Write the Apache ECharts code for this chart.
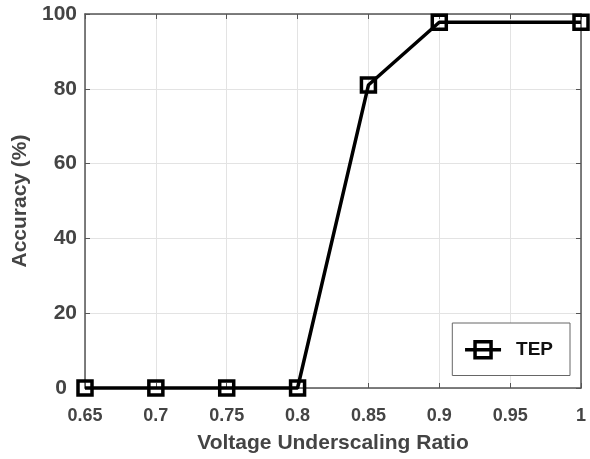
<!DOCTYPE html>
<html><head><meta charset="utf-8">
<script src="https://cdn.jsdelivr.net/npm/echarts@6/dist/echarts.min.js"></script>
<style>html,body{margin:0;padding:0;background:#fff}#c{width:590px;height:459px}</style>
</head><body><div id="c"></div>
<script>
const xValues = [0.65, 0.7, 0.75, 0.8, 0.85, 0.9, 1.0];
const tepValues = [0, 0, 0, 0, 81, 97.8, 97.8];
const seriesName = 'TEP';
const xTitle = 'Voltage Underscaling Ratio';
const yTitle = 'Accuracy (%)';

const FONT = '"Liberation Sans", Arial, Helvetica, sans-serif';
const AXIS_COLOR = '#555';
const LABEL_COLOR = '#444';
const GRID_COLOR = '#e3e3e3';

const chart = echarts.init(document.getElementById('c'), null, {renderer: 'canvas'});
const baseAxis = {
  axisLine: {show: true, onZero: false, lineStyle: {color: AXIS_COLOR, width: 1.5}},
  axisTick: {show: true, inside: true, length: 5, lineStyle: {color: AXIS_COLOR, width: 1}},
};
chart.setOption({
  backgroundColor: '#fff',
  animation: false,
  grid: {left: 85, right: 9, top: 14, bottom: 71, containLabel: false},
  legend: {
    right: 20, top: 323,
    data: [seriesName],
    orient: 'vertical',
    backgroundColor: '#fff',
    borderColor: '#666', borderWidth: 1,
    padding: [17, 17, 16, 11],
    itemWidth: 36, itemHeight: 20,
    lineStyle: {color: '#000', width: 3.5},
    itemStyle: {color: 'rgba(0,0,0,0)', borderColor: '#000', borderWidth: 3.5},
    textStyle: {fontFamily: FONT, fontWeight: 'bold', fontSize: 19, color: '#111', padding: [0, 0, 0, 10]}
  },
  xAxis: [
    Object.assign({}, baseAxis, {
      type: 'value', position: 'bottom', min: 0.65, max: 1, interval: 0.05,
      name: xTitle, nameLocation: 'middle', nameGap: 45,
      nameTextStyle: {fontFamily: FONT, fontWeight: 'bold', fontSize: 21, color: LABEL_COLOR},
      axisLabel: {margin: 19, fontFamily: FONT, fontWeight: 'bold', fontSize: 18, color: LABEL_COLOR,
        formatter: v => String(+v.toFixed(2))},
      splitLine: {show: true, lineStyle: {color: GRID_COLOR, width: 1}}
    }),
    Object.assign({}, baseAxis, {
      type: 'value', position: 'top', min: 0.65, max: 1, interval: 0.05,
      axisLabel: {show: false}, splitLine: {show: false}
    })
  ],
  yAxis: [
    Object.assign({}, baseAxis, {
      type: 'value', position: 'left', min: 0, max: 100, interval: 20,
      name: yTitle, nameLocation: 'middle', nameGap: 54,
      nameTextStyle: {fontFamily: FONT, fontWeight: 'bold', fontSize: 21, color: LABEL_COLOR},
      axisLabel: {margin: 8, fontFamily: FONT, fontWeight: 'bold', fontSize: 21, color: LABEL_COLOR,
        formatter: v => v === 0 ? '{z|0}' : String(v),
        rich: {z: {fontFamily: FONT, fontWeight: 'bold', fontSize: 21, color: LABEL_COLOR, padding: [0, 10, 0, 0]}}},
      splitLine: {show: true, lineStyle: {color: GRID_COLOR, width: 1}}
    }),
    Object.assign({}, baseAxis, {
      type: 'value', position: 'right', min: 0, max: 100, interval: 20,
      axisLabel: {show: false}, splitLine: {show: false}
    })
  ],
  series: [{
    name: seriesName,
    type: 'line',
    data: xValues.map((x, i) => [x, tepValues[i]]),
    symbol: 'rect',
    symbolSize: 14,
    showAllSymbol: true,
    clip: false,
    lineStyle: {color: '#000', width: 3.5},
    itemStyle: {color: 'rgba(0,0,0,0)', borderColor: '#000', borderWidth: 3.5},
    z: 5
  }]
});
</script></body></html>
